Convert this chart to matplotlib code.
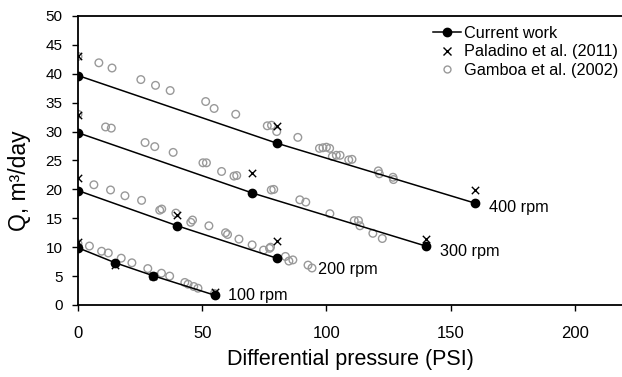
import matplotlib
matplotlib.use("Agg")
import matplotlib.pyplot as plt
from matplotlib.lines import Line2D

plt.rcParams["font.family"] = ["Liberation Sans", "DejaVu Sans"]

# Current work, one curve per speed
cw_p400 = [0, 80, 160]
cw_q400 = [39.7, 28.0, 17.6]
cw_p300 = [0, 70, 140]
cw_q300 = [29.8, 19.4, 10.2]
cw_p200 = [0, 40, 80]
cw_q200 = [19.8, 13.7, 8.1]
cw_p100 = [0, 15, 30, 55]
cw_q100 = [9.9, 7.3, 5.1, 1.7]

# Paladino et al. (2011)
pal_p = [0, 80, 160, 0, 70, 140, 0, 40, 80, 0, 15, 30, 55]
pal_q = [43.0, 31.0, 19.9, 32.8, 22.9, 11.4, 21.9, 15.6, 11.0, 10.9, 7.0, 5.0, 2.2]

# Gamboa et al. (2002)
gam_p = [0, 8.4, 13.7, 25.3, 31.2, 37.1, 51.4, 54.8, 63.5, 76.2, 77.9, 80.0, 88.5,
         97.2, 98.6, 100.0, 101.3, 102.4, 104.0, 105.5, 109.0, 110.3, 120.9, 121.3,
         126.8, 127.0,
         0, 11.1, 13.4, 27.0, 30.9, 38.3, 50.3, 51.7, 57.8, 62.8, 63.9, 77.8, 78.8,
         89.3, 91.7, 101.4, 111.2, 112.9, 113.5, 118.7, 122.5,
         6.4, 13.1, 18.9, 25.6, 32.9, 33.7, 39.4, 45.4, 46.1, 52.7, 59.4, 60.2, 64.8,
         70.1, 74.7, 77.1, 77.5, 83.5, 84.9, 86.5, 92.6, 94.2,
         0, 4.6, 9.5, 12.2, 17.4, 21.7, 28.1, 33.6, 36.9, 43.0, 44.3, 46.6, 48.3, 54.9]
gam_q = [43.0, 41.9, 41.0, 39.0, 38.0, 37.1, 35.2, 34.0, 33.0, 31.0, 31.1, 30.0, 29.0,
         27.1, 27.2, 27.3, 27.1, 25.7, 25.9, 25.9, 25.1, 25.2, 23.2, 22.7,
         22.1, 21.7,
         33.0, 30.8, 30.6, 28.1, 27.4, 26.4, 24.6, 24.6, 23.1, 22.3, 22.4, 19.9, 20.0,
         18.2, 17.8, 15.8, 14.6, 14.6, 13.7, 12.4, 11.5,
         20.8, 19.9, 18.9, 18.1, 16.4, 16.6, 15.9, 14.3, 14.7, 13.7, 12.5, 12.2, 11.4,
         10.4, 9.5, 9.8, 10.0, 8.4, 7.6, 7.8, 6.9, 6.4,
         10.6, 10.2, 9.3, 9.0, 8.1, 7.3, 6.3, 5.5, 5.0, 3.9, 3.6, 3.2, 2.9, 2.0]

speed_labels = ["400 rpm", "300 rpm", "200 rpm", "100 rpm"]
label_xy = [(165.5, 16.8), (145.6, 9.2), (96.5, 6.2), (60.4, 1.7)]

fig = plt.figure(figsize=(6.22, 3.77), dpi=100)
ax = fig.add_axes([0.1254, 0.191, 0.8746, 0.7666])

ax.scatter(gam_p, gam_q, s=30, facecolors="none", edgecolors="#999999",
           linewidths=1.0, zorder=2)

curves = [(cw_p400, cw_q400), (cw_p300, cw_q300), (cw_p200, cw_q200), (cw_p100, cw_q100)]
for p, q in curves:
    ax.plot(p, q, "-o", color="black", lw=1.1, ms=6, zorder=3)

ax.scatter(pal_p, pal_q, marker="x", s=28, color="black", linewidths=1.0, zorder=4)

for txt, (x, y) in zip(speed_labels, label_xy):
    ax.text(x, y, txt, fontsize=11.7, va="center", ha="left")

ax.set_xlim(0, 219)
ax.set_ylim(0, 50)
ax.set_xticks([0, 50, 100, 150, 200])
ax.set_yticks(range(0, 51, 5))
ax.tick_params(direction="out", length=4, width=1)
ax.tick_params(axis="x", pad=11, labelsize=12)
ax.tick_params(axis="y", pad=7, labelsize=11)
ax.spines["right"].set_visible(False)
for s in ["left", "bottom", "top"]:
    ax.spines[s].set_linewidth(1.3)

ax.set_xlabel("Differential pressure (PSI)", fontsize=15.5)
ax.xaxis.set_label_coords(0.5, -0.152)
ax.set_ylabel("Q, m³/day", fontsize=16.5)
ax.yaxis.set_label_coords(-0.086, 0.43)

handles = [
    Line2D([], [], color="black", marker="o", lw=1.1, ms=6),
    Line2D([], [], color="black", marker="x", ls="none", ms=5.5, mew=1.0),
    Line2D([], [], color="#999999", marker="o", mfc="none", ls="none", ms=5, mew=1.0),
]
ax.legend(handles, ["Current work", "Paladino et al. (2011)", "Gamboa et al. (2002)"],
          loc="upper left", bbox_to_anchor=(433 / 622, 1 - 26 / 377),
          bbox_transform=fig.transFigure, frameon=False, fontsize=11.7,
          handlelength=1.7, handletextpad=0.2, labelspacing=0.2,
          borderpad=0, borderaxespad=0)

fig.savefig("out.png", dpi=100)
